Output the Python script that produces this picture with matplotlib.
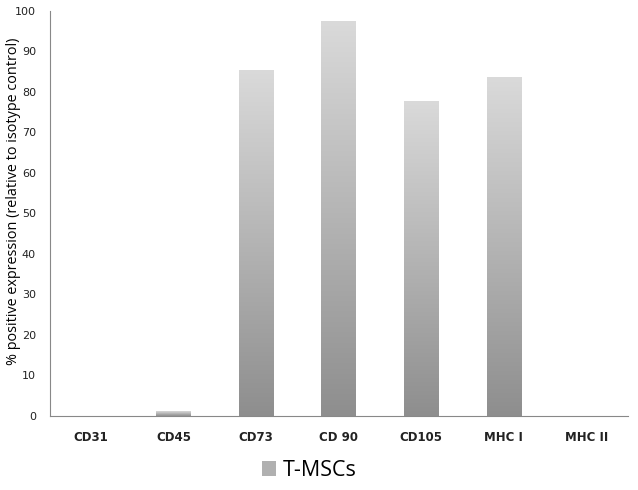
import numpy as np
import matplotlib
matplotlib.use("Agg")
import matplotlib.pyplot as plt
from matplotlib.colors import LinearSegmentedColormap
from matplotlib.patches import Rectangle

categories = ["CD31", "CD45", "CD73", "CD 90", "CD105", "MHC I", "MHC II"]
values = [0, 1.2, 85.5, 97.6, 77.8, 83.6, 0]
series_name = "T-MSCs"
yticks = list(range(0, 101, 10))

fig = plt.figure(figsize=(6.38, 4.9), dpi=100)
ax = fig.add_axes([0.078, 0.151, 0.906, 0.827])

cmap = LinearSegmentedColormap.from_list("g", ["#8e8e8e", "#dadada"])
grad = np.linspace(0, 1, 256).reshape(-1, 1)

x = np.arange(len(categories))
bars = ax.bar(x, values, width=0.42, color="none", edgecolor="none")
for b in bars:
    h = b.get_height()
    if h <= 0:
        continue
    x0 = b.get_x(); w = b.get_width()
    im = ax.imshow(grad, cmap=cmap, origin="lower", aspect="auto",
                   extent=[x0, x0 + w, 0, h], zorder=2, interpolation="bicubic")
    im.set_clip_path(b)

ax.set_xlim(-0.5, len(categories) - 0.5)
ax.set_ylim(0, 100)
ax.set_yticks(yticks)
ax.set_xticks(x)
ax.set_xticklabels(categories, fontweight="bold", fontsize=8.5)
ax.tick_params(axis="both", length=0, labelsize=8, colors="#222222")
ax.tick_params(axis="x", pad=11, labelsize=8.5)
ax.tick_params(axis="y", pad=10)
for s in ["top", "right"]:
    ax.spines[s].set_visible(False)
ax.spines["left"].set_color("#888888")
ax.spines["bottom"].set_color("#888888")
ax.set_ylabel("% positive expression (relative to isotype control)", fontsize=10.4,
              fontfamily="Open Sans")
ax.yaxis.set_label_coords(-0.05, 0.53)

# legend
handle = Rectangle((0, 0), 1, 1, facecolor="#b0b0b0", edgecolor="none")
fig.legend([handle], [series_name], loc="center", bbox_to_anchor=(0.485, 0.04),
           frameon=False, prop={"family": "Open Sans", "size": 15.5},
           handlelength=0.65, handleheight=0.65, handletextpad=0.3)

fig.savefig("out.png", dpi=100)
